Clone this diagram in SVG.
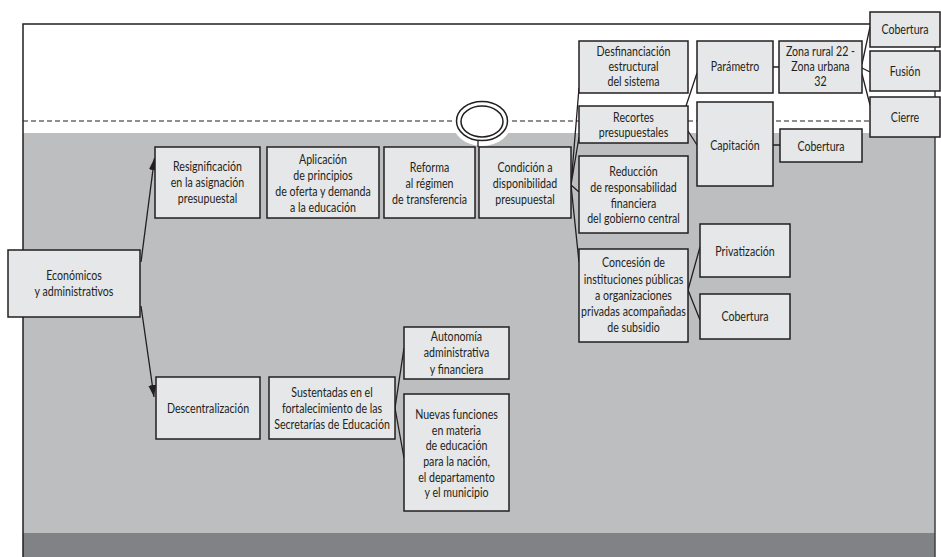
<svg xmlns="http://www.w3.org/2000/svg" width="941" height="557" viewBox="0 0 941 557">
<defs>
<style>
.box{fill:#e6e7e8;stroke:#231f20;stroke-width:1.5}
.t{font-family:Lato,"Open Sans","Liberation Sans",sans-serif;font-size:12.5px;fill:#231f20;text-anchor:middle}
.c{fill:none;stroke:#231f20;stroke-width:1.3}
.frame{fill:none;stroke:#231f20;stroke-width:1.5}
</style>
<marker id="ah" markerUnits="userSpaceOnUse" markerWidth="14" markerHeight="10" refX="12" refY="4" orient="auto">
<path d="M0,0 L12,4 L0,8 Z" fill="#231f20"/>
</marker>
</defs>
<rect x="0" y="0" width="941" height="557" fill="#ffffff"/>
<g id="background">
<rect x="23" y="133" width="912" height="400" fill="#bcbec0"/>
<rect x="23" y="533" width="912" height="24" fill="#808285"/>
<ellipse cx="482" cy="121" rx="30" ry="25" fill="#ffffff"/>
<path class="frame" d="M23,557 L23,24 L870,24"/>
<path d="M935,24 L935,557" fill="none" stroke="#414042" stroke-width="1.5"/>
<path d="M23,121 L453,121 M512,121 L870,121" fill="none" stroke="#231f20" stroke-width="1.2" stroke-dasharray="5,3"/>
<ellipse cx="482" cy="121" rx="25.5" ry="19.5" fill="#ffffff" stroke="#231f20" stroke-width="1.5"/>
<ellipse cx="482" cy="121.5" rx="21" ry="15.5" fill="none" stroke="#231f20" stroke-width="1.5"/>
</g>
<g id="connectors">
<path class="c" d="M478,140.5 L478,147"/>
<path class="c" d="M141,262 L154.5,158" marker-end="url(#ah)"/>
<path class="c" d="M141,306 L154,397" marker-end="url(#ah)"/>
<path class="c" d="M571,185 L579,88 M571,185 L579,137 M571,185 L579,192 M571,185 L579,262"/>
<path class="c" d="M686,106 L697,73 M688,131 L697,145"/>
<path class="c" d="M773,67 L779,67 M773,145 L780,145"/>
<path class="c" d="M862,64 L870,27 M862,68 L870,72 M862,74 L870,105"/>
<path class="c" d="M688,290 L700,247 M688,290 L700,320"/>
<path class="c" d="M395,408 L404,348 M395,408 L404,458"/>
</g>
<g id="economicos"><rect class="box" x="8" y="250" width="132" height="67"/>
<g transform="translate(74 0) scale(0.85 1)"><text class="t" x="0" y="280">Económicos</text><text class="t" x="0" y="296">y administrativos</text></g></g>
<g id="resignificacion"><rect class="box" x="155" y="147" width="105" height="71"/>
<g transform="translate(207.5 0) scale(0.85 1)"><text class="t" x="0" y="171">Resignificación</text><text class="t" x="0" y="187">en la asignación</text><text class="t" x="0" y="203">presupuestal</text></g></g>
<g id="aplicacion"><rect class="box" x="267" y="147" width="112" height="71"/>
<g transform="translate(323 0) scale(0.85 1)"><text class="t" x="0" y="164.5">Aplicación</text><text class="t" x="0" y="180.5">de principios</text><text class="t" x="0" y="196.5">de oferta y demanda</text><text class="t" x="0" y="212.5">a la educación</text></g></g>
<g id="reforma"><rect class="box" x="384" y="147" width="91" height="71"/>
<g transform="translate(429.5 0) scale(0.85 1)"><text class="t" x="0" y="172">Reforma</text><text class="t" x="0" y="188">al régimen</text><text class="t" x="0" y="204">de transferencia</text></g></g>
<g id="condicion"><rect class="box" x="479" y="147" width="92" height="71"/>
<g transform="translate(525 0) scale(0.85 1)"><text class="t" x="0" y="172">Condición a</text><text class="t" x="0" y="188">disponibilidad</text><text class="t" x="0" y="204">presupuestal</text></g></g>
<g id="desfinanciacion"><rect class="box" x="579" y="41" width="109" height="52"/>
<g transform="translate(633.5 0) scale(0.85 1)"><text class="t" x="0" y="56">Desfinanciación</text><text class="t" x="0" y="71">estructural</text><text class="t" x="0" y="86.5">del sistema</text></g></g>
<g id="recortes"><rect class="box" x="579" y="106" width="109" height="37"/>
<g transform="translate(633.5 0) scale(0.85 1)"><text class="t" x="0" y="122">Recortes</text><text class="t" x="0" y="137.5">presupuestales</text></g></g>
<g id="reduccion"><rect class="box" x="579" y="156" width="109" height="77"/>
<g transform="translate(633.5 0) scale(0.85 1)"><text class="t" x="0" y="176.5">Reducción</text><text class="t" x="0" y="192.5">de responsabilidad</text><text class="t" x="0" y="208">financiera</text><text class="t" x="0" y="223.5">del gobierno central</text></g></g>
<g id="concesion"><rect class="box" x="579" y="249" width="109" height="93"/>
<g transform="translate(633.5 0) scale(0.85 1)"><text class="t" x="0" y="267.5">Concesión de</text><text class="t" x="0" y="284">instituciones públicas</text><text class="t" x="0" y="300.5">a organizaciones</text><text class="t" x="0" y="316.5">privadas acompañadas</text><text class="t" x="0" y="332.5">de subsidio</text></g></g>
<g id="privatizacion"><rect class="box" x="700" y="224" width="90" height="53"/>
<g transform="translate(745 0) scale(0.85 1)"><text class="t" x="0" y="256.5">Privatización</text></g></g>
<g id="cobertura-concesion"><rect class="box" x="700" y="294" width="90" height="45"/>
<g transform="translate(745 0) scale(0.85 1)"><text class="t" x="0" y="321.5">Cobertura</text></g></g>
<g id="parametro"><rect class="box" x="697" y="41" width="76" height="52"/>
<g transform="translate(735 0) scale(0.85 1)"><text class="t" x="0" y="71.5">Parámetro</text></g></g>
<g id="zona"><rect class="box" x="779" y="41" width="83" height="52"/>
<g transform="translate(820.5 0) scale(0.85 1)"><text class="t" x="0" y="56">Zona rural 22 -</text><text class="t" x="0" y="71">Zona urbana</text><text class="t" x="0" y="86.5">32</text></g></g>
<g id="capitacion"><rect class="box" x="697" y="102" width="76" height="84"/>
<g transform="translate(735 0) scale(0.85 1)"><text class="t" x="0" y="150.5">Capitación</text></g></g>
<g id="cobertura-capitacion"><rect class="box" x="780" y="129" width="82" height="33"/>
<g transform="translate(821 0) scale(0.85 1)"><text class="t" x="0" y="151">Cobertura</text></g></g>
<g id="cobertura-zona"><rect class="box" x="870" y="12" width="70" height="35"/>
<g transform="translate(905 0) scale(0.85 1)"><text class="t" x="0" y="34">Cobertura</text></g></g>
<g id="fusion"><rect class="box" x="870" y="51" width="70" height="40"/>
<g transform="translate(905 0) scale(0.85 1)"><text class="t" x="0" y="76">Fusión</text></g></g>
<g id="cierre"><rect class="box" x="870" y="97" width="70" height="40"/>
<g transform="translate(905 0) scale(0.85 1)"><text class="t" x="0" y="122">Cierre</text></g></g>
<g id="descentralizacion"><rect class="box" x="156" y="377" width="104" height="62"/>
<g transform="translate(208 0) scale(0.85 1)"><text class="t" x="0" y="413">Descentralización</text></g></g>
<g id="sustentadas"><rect class="box" x="269" y="377" width="126" height="62"/>
<g transform="translate(332 0) scale(0.85 1)"><text class="t" x="0" y="397.5">Sustentadas en el</text><text class="t" x="0" y="413.5">fortalecimiento de las</text><text class="t" x="0" y="429.5">Secretarías de Educación</text></g></g>
<g id="autonomia"><rect class="box" x="404" y="327" width="105" height="52"/>
<g transform="translate(456.5 0) scale(0.85 1)"><text class="t" x="0" y="341.5">Autonomía</text><text class="t" x="0" y="357.5">administrativa</text><text class="t" x="0" y="374">y financiera</text></g></g>
<g id="nuevas"><rect class="box" x="404" y="394" width="105" height="117"/>
<g transform="translate(456.5 0) scale(0.85 1)"><text class="t" x="0" y="419.5">Nuevas funciones</text><text class="t" x="0" y="435">en materia</text><text class="t" x="0" y="450.5">de educación</text><text class="t" x="0" y="466">para la nación,</text><text class="t" x="0" y="482">el departamento</text><text class="t" x="0" y="497.5">y el municipio</text></g></g>
</svg>
